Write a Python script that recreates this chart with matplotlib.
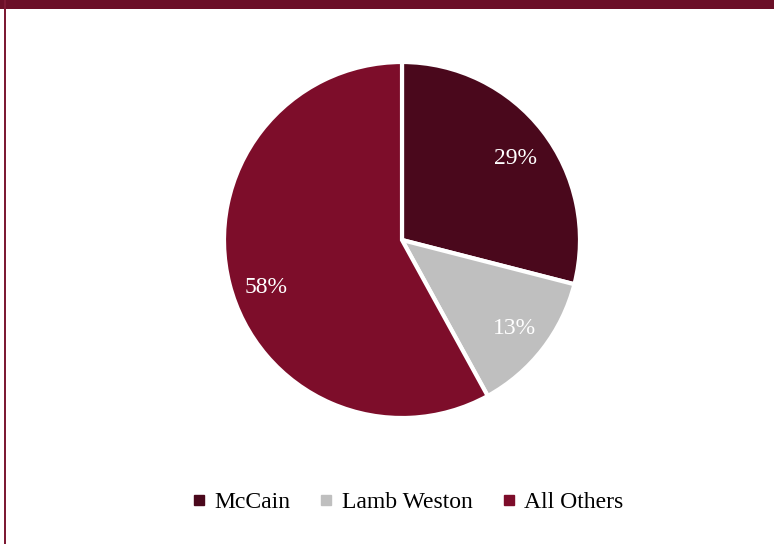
import matplotlib
matplotlib.use("Agg")
import matplotlib.pyplot as plt
from matplotlib.patches import Rectangle
from matplotlib.lines import Line2D

labels = ["McCain", "Lamb Weston", "All Others"]
shares = [29, 13, 58]
colors = ["#4A081C", "#BFBFBF", "#7D0D2A"]

plt.rcParams['font.family'] = ['Liberation Serif', 'DejaVu Serif']

W, H = 774, 544
fig = plt.figure(figsize=(W/100, H/100), dpi=100)
fig.patch.set_facecolor("white")

# frame decorations
fig.patches.append(Rectangle((0, 1 - 9/H), 1, 9/H, transform=fig.transFigure,
                             facecolor="#6B0F28", edgecolor="none", zorder=5))
fig.patches.append(Rectangle((4/W, 0), 2/W, 1, transform=fig.transFigure,
                             facecolor="#7D1A34", edgecolor="none", zorder=5))

cx, cy, r = 402, 240, 178
ax = fig.add_axes([(cx - r)/W, (H - cy - r)/H, 2*r/W, 2*r/H])
wedges, texts, autotexts = ax.pie(
    shares, colors=colors, startangle=90, counterclock=False,
    autopct=lambda p: f"{p:.0f}%", pctdistance=0.8,
    wedgeprops=dict(edgecolor="white", linewidth=3),
    textprops=dict(color="white", fontsize=17))
# small label nudges (pixels: dx right, dy down) to mimic the original placement
nudges = [(1, 6), (0, 1), (2, 12)]
for t, (dx, dy) in zip(autotexts, nudges):
    x, y = t.get_position()
    t.set_position((x + dx / r, y - dy / r))
ax.set_xlim(-1, 1)
ax.set_ylim(-1, 1)
ax.set_aspect("equal")
ax.axis("off")

handles = [Line2D([], [], marker="s", linestyle="none", markersize=6.5,
                  markerfacecolor=c, markeredgecolor=c) for c in colors]
fig.legend(handles, labels, loc="center", bbox_to_anchor=(407/W, 1 - 502/H),
           ncol=3, frameon=False, fontsize=17, handletextpad=0.3,
           columnspacing=1.2, handlelength=0.7)

fig.savefig("out.png", dpi=100)
